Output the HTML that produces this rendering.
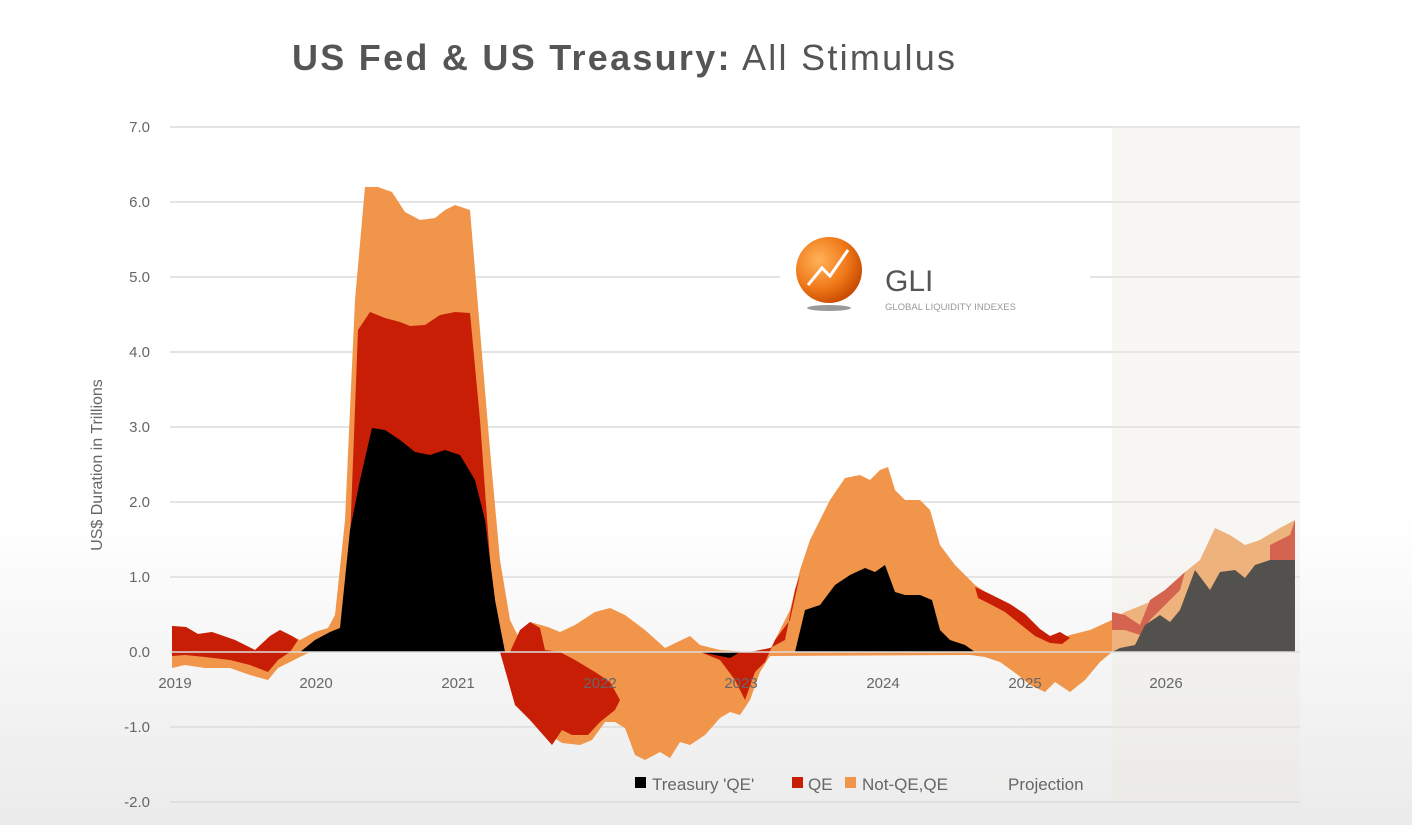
<!DOCTYPE html>
<html><head><meta charset="utf-8"><style>
html,body{margin:0;padding:0;}
body{width:1412px;height:825px;overflow:hidden;background:linear-gradient(#fff 0%,#fff 62%,#ebebeb 100%);font-family:"Liberation Sans",sans-serif;}
</style></head><body>
<svg width="1412" height="825" xmlns="http://www.w3.org/2000/svg" style="position:absolute;left:0;top:0">
<defs><radialGradient id="og" cx="0.35" cy="0.35" r="0.7"><stop offset="0" stop-color="#ffb25a"/><stop offset="0.6" stop-color="#f07a1a"/><stop offset="1" stop-color="#c84a00"/></radialGradient></defs>
<text x="292" y="70" font-size="36" fill="#555" textLength="663" lengthAdjust="spacing"><tspan font-weight="bold">US Fed &amp; US Treasury:</tspan> All Stimulus</text>
<g stroke="#dcdcdc" stroke-width="1.5">
<line x1="170" y1="127" x2="1300" y2="127"/><line x1="170" y1="202" x2="1300" y2="202"/>
<line x1="170" y1="277" x2="1300" y2="277"/><line x1="170" y1="352" x2="1300" y2="352"/>
<line x1="170" y1="427" x2="1300" y2="427"/><line x1="170" y1="502" x2="1300" y2="502"/>
<line x1="170" y1="577" x2="1300" y2="577"/><line x1="170" y1="727" x2="1300" y2="727"/>
<line x1="170" y1="802" x2="1300" y2="802"/>
</g>
<g font-size="15" fill="#666" text-anchor="end">
<text x="150" y="132">7.0</text><text x="150" y="207">6.0</text><text x="150" y="282">5.0</text>
<text x="150" y="357">4.0</text><text x="150" y="432">3.0</text><text x="150" y="507">2.0</text>
<text x="150" y="582">1.0</text><text x="150" y="657">0.0</text><text x="150" y="732">-1.0</text><text x="150" y="807">-2.0</text>
</g>
<text transform="translate(102,465) rotate(-90)" font-size="16" fill="#666" text-anchor="middle">US$ Duration in Trillions</text>
<rect x="780" y="230" width="310" height="85" fill="#fff"/>
<circle cx="829" cy="270" r="33" fill="url(#og)"/>
<polyline points="808,285 822,268 830,276 848,250" fill="none" stroke="#fff" stroke-width="3"/>
<ellipse cx="829" cy="308" rx="22" ry="3" fill="#999"/>
<text x="885" y="291" font-size="30" fill="#555">GLI</text>
<text x="885" y="310" font-size="9.5" fill="#999">GLOBAL LIQUIDITY INDEXES</text>
<polygon fill="#f0954a" points="172,626 186,627 198,634 212,632 235,640 255,650 270,636 280,630 292,636 300,640 315,632 328,628 335,615 345,520 355,300 365,187 378,187 392,192 405,212 420,220 435,218 445,210 455,205 470,210 480,330 490,450 500,560 510,620 520,640 530,622 548,627 560,632 575,625 595,612 610,608 625,615 645,630 665,648 690,636 700,645 720,650 750,652 770,650 790,610 800,570 810,540 830,500 845,478 860,475 870,480 880,470 888,467 895,490 905,500 920,500 930,510 940,545 955,565 975,585 990,595 1000,600 1010,605 1025,615 1040,630 1055,640 1070,635 1090,630 1112,620 1125,612 1140,606 1155,600 1168,590 1185,572 1200,560 1215,528 1230,535 1245,545 1260,540 1280,528 1295,520 1295,652 1112,652 1100,662 1085,680 1070,692 1055,682 1045,692 1030,685 1018,675 1000,662 985,657 970,655 770,656 760,672 750,700 740,715 730,712 720,718 705,735 690,745 680,742 670,758 660,752 645,760 635,755 625,728 615,722 605,722 592,740 580,745 562,743 550,735 530,710 515,695 505,665 500,652 330,652 310,652 290,662 278,668 268,680 250,675 230,668 205,668 185,665 172,668"/>
<g fill="#c81e05">
<polygon points="340,640 350,540 358,330 370,312 385,318 400,322 410,326 425,325 440,315 455,312 470,313 480,420 490,560 500,640 505,652 340,652"/>
<polygon points="500,652 515,705 530,720 552,745 562,730 572,735 588,735 600,722 615,710 620,700 610,682 595,672 575,660 560,652 545,650 540,628 530,622 520,630 510,652"/>
<polygon points="172,626 186,627 198,634 212,632 235,640 255,650 270,636 280,630 292,636 298,640 290,652 278,660 268,672 250,665 230,660 205,657 185,655 172,656"/>
<polygon points="700,652 720,660 735,680 745,700 755,672 765,662 775,640 790,620 800,575 795,590 785,640 770,648 750,652"/>
<polygon points="975,587 990,594 1000,599 1010,604 1025,614 1040,629 1050,636 1060,632 1070,638 1062,644 1050,643 1035,636 1020,624 1005,612 990,604 978,598"/>
<polygon points="1112,612 1125,615 1140,625 1150,600 1165,590 1185,572 1180,590 1165,605 1150,620 1140,635 1125,630 1112,630"/>
<polygon points="1270,545 1290,535 1295,520 1295,560 1270,562"/>
</g>
<g fill="#000">
<polygon points="300,652 315,640 330,632 340,628 350,530 360,480 372,428 385,430 400,440 415,452 430,455 445,450 460,455 475,480 485,520 495,600 505,652"/>
<polygon points="700,652 730,658 740,652"/>
<polygon points="795,652 805,610 820,605 835,585 850,575 865,568 875,572 885,565 895,592 905,595 920,595 932,600 940,630 950,640 965,645 975,652"/>
<polygon points="1112,652 1120,648 1135,645 1145,625 1160,615 1170,622 1180,610 1195,570 1210,590 1220,572 1235,570 1245,578 1255,565 1270,560 1295,560 1295,652"/>
</g>
<rect x="1112" y="127" width="188" height="675" fill="#ece9dc" opacity="0.35"/>
<line x1="170" y1="652" x2="1300" y2="652" stroke="#ddd" stroke-width="1.5"/>
<g font-size="15" fill="#666" text-anchor="middle">
<text x="175" y="688">2019</text><text x="316" y="688">2020</text><text x="458" y="688">2021</text>
<text x="600" y="688">2022</text><text x="741" y="688">2023</text><text x="883" y="688">2024</text>
<text x="1025" y="688">2025</text><text x="1166" y="688">2026</text>
</g>
<g font-size="17" fill="#666">
<rect x="635" y="777" width="11" height="11" fill="#000"/><text x="652" y="790">Treasury 'QE'</text>
<rect x="792" y="777" width="11" height="11" fill="#c81e05"/><text x="808" y="790">QE</text>
<rect x="845" y="777" width="11" height="11" fill="#f0954a"/><text x="862" y="790">Not-QE,QE</text>
<rect x="991" y="777" width="11" height="11" fill="#eeeeea"/><text x="1008" y="790">Projection</text>
</g>
</svg>
</body></html>
